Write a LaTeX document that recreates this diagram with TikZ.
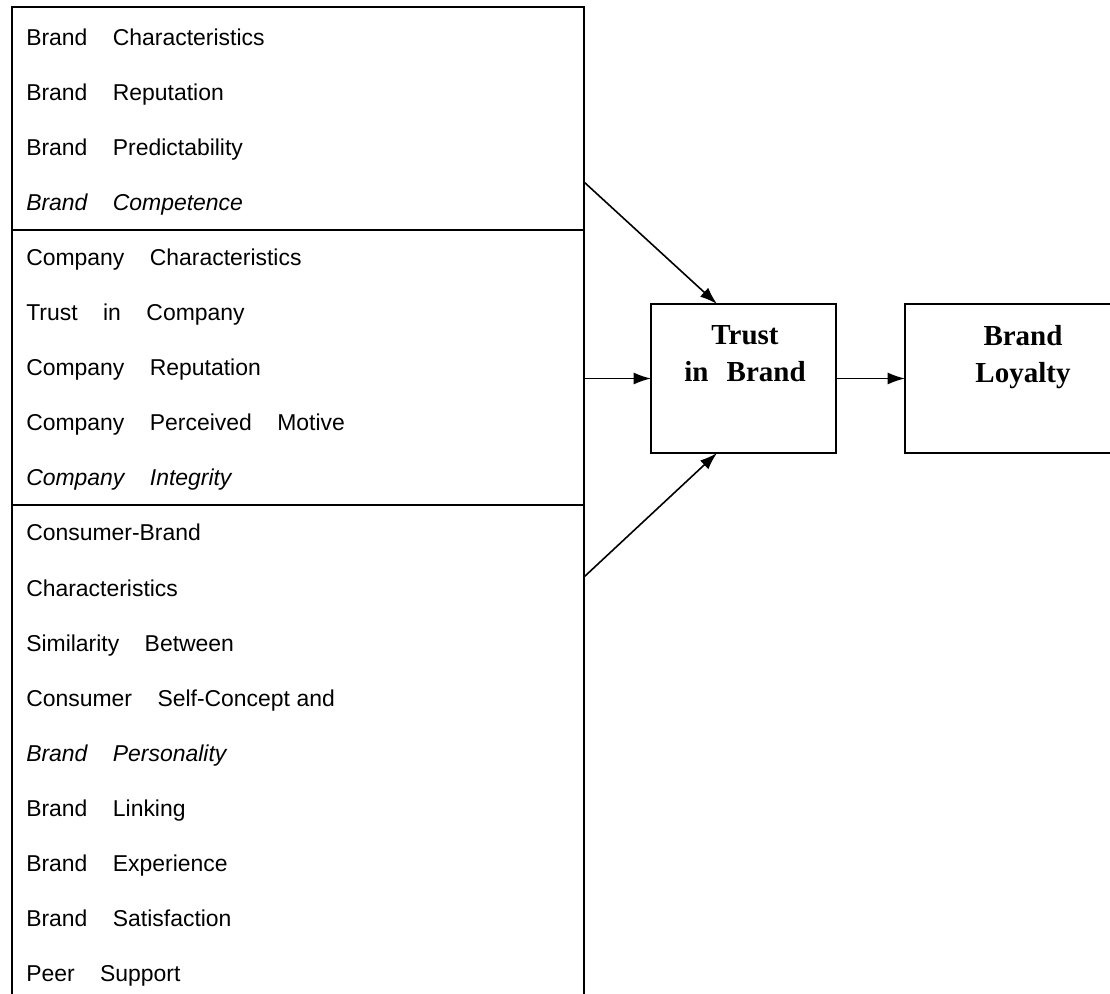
\documentclass[tikz,border=0pt]{standalone}
\usepackage{fontspec}
\setmainfont[WordSpace=4]{Liberation Sans}
\newfontfamily\boxserif[WordSpace=2.5]{Liberation Serif}
\usetikzlibrary{arrows.meta}
\begin{document}
\begin{tikzpicture}[x=0.75pt,y=-0.75pt,
  frame/.style={draw=black,line width=1.2pt,inner sep=0pt,outer sep=0pt,minimum width=429pt},
  itemtext/.style={anchor=base west,inner sep=0pt,font=\fontsize{17.2}{20}\selectfont},
  itemit/.style={itemtext,font=\fontsize{17.2}{20}\selectfont\itshape},
  bigbox/.style={draw=black,line width=1.2pt,inner sep=0pt,outer sep=0pt,minimum height=111.75pt},
  boxtext/.style={anchor=north,inner sep=0pt,align=center,font=\fontsize{21.75}{27.75}\selectfont\boxserif\bfseries},
  arr/.style={line width=1.2pt,-{Latex[length=13pt,width=9pt]}}
]
\useasboundingbox (0,0) rectangle (1110,994);
\fill[white] (0,0) rectangle (1110,994);

% left sectioned box
\node[frame,minimum height=167.25pt] (sec1) at (298,118.5) {};
\node[frame,minimum height=206.25pt] (sec2) at (298,367.5) {};
\node[frame,minimum height=378.75pt] (sec3) at (298,757.5) {};

% items
\node[itemtext] (l1)  at (26,46)  {Brand Characteristics};
\node[itemtext] (l2)  at (26,101) {Brand Reputation};
\node[itemtext] (l3)  at (26,156) {Brand Predictability};
\node[itemit]   (l4)  at (26,211) {Brand Competence};
\node[itemtext] (l5)  at (26,266) {Company Characteristics};
\node[itemtext] (l6)  at (26,321) {Trust in Company};
\node[itemtext] (l7)  at (26,376) {Company Reputation};
\node[itemtext] (l8)  at (26,431) {Company Perceived Motive};
\node[itemit]   (l9)  at (26,486) {Company Integrity};
\node[itemtext] (l10) at (26,541) {Consumer-Brand};
\node[itemtext] (l11) at (26,596) {Characteristics};
\node[itemtext] (l12) at (26,651) {Similarity Between};
\node[itemtext] (l13) at (26,706) {Consumer Self-Concept\kern5pt and};
\node[itemit]   (l14) at (26,761) {Brand Personality};
\node[itemtext] (l15) at (26,816) {Brand Linking};
\node[itemtext] (l16) at (26,871) {Brand Experience};
\node[itemtext] (l17) at (26,926) {Brand Satisfaction};
\node[itemtext] (l18) at (26,981) {Peer Support};

% right boxes
\node[bigbox,minimum width=138.75pt] (trust) at (743.5,378.5) {};
\node[boxtext] (trusttxt) at (745,325) {Trust\\in Brand};
\node[bigbox,minimum width=177pt] (loyal) at (1023,378.5) {};
\node[boxtext] (loyaltxt) at (1023,325) {Brand\\Loyalty};

% connector end points
\coordinate (s1) at (584,182);
\coordinate (s2) at (584,378.5);
\coordinate (s3) at (584,577);
\coordinate (t1) at (717,304);
\coordinate (t3) at (717,453);

\draw[arr] (s1) -- (t1);
\draw[arr] (s2) -- (trust.west);
\draw[arr] (s3) -- (t3);
\draw[arr] (trust.east) -- (loyal.west);
\end{tikzpicture}
\end{document}
